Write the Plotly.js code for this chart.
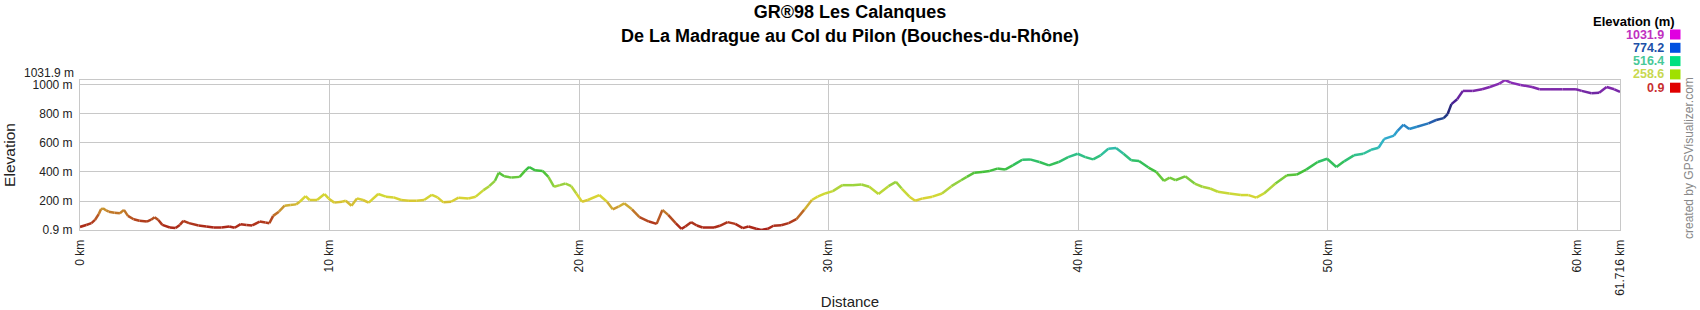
<!DOCTYPE html>
<html><head><meta charset="utf-8">
<script src="https://cdn.plot.ly/plotly-3.0.1.min.js"></script>
<style>html,body{margin:0;padding:0;background:#fff;} #chart{width:1700px;height:310px;}</style>
</head><body><div id="chart"></div>
<script>
// ---------------- DATA ----------------
const distanceKm = [0.0,0.25,0.46,0.6,0.75,0.84,0.92,1.05,1.15,1.38,1.6,1.76,1.92,2.15,2.38,2.68,2.85,2.99,3.14,3.3,3.6,3.83,4.0,4.14,4.37,4.75,5.06,5.36,5.67,5.98,6.2,6.44,6.67,6.9,7.2,7.43,7.59,7.74,7.97,8.2,8.43,8.66,8.81,9.04,9.2,9.5,9.8,9.96,10.19,10.5,10.65,10.88,11.1,11.34,11.57,11.95,12.26,12.57,12.87,13.18,13.49,13.79,14.1,14.33,14.56,14.87,15.17,15.56,15.86,16.17,16.4,16.63,16.78,17.0,17.3,17.62,17.85,18.0,18.24,18.54,18.77,19.0,19.23,19.46,19.69,19.89,20.12,20.35,20.81,21.12,21.35,21.58,21.81,22.12,22.42,22.8,23.11,23.34,23.57,23.87,24.1,24.26,24.49,24.72,24.95,25.41,25.64,25.95,26.26,26.56,26.79,27.1,27.3,27.56,27.79,28.1,28.4,28.71,29.02,29.33,29.56,29.86,30.17,30.55,30.94,31.32,31.63,32.0,32.4,32.7,32.93,33.24,33.47,33.77,34.16,34.54,34.92,35.31,35.54,35.84,36.15,36.46,36.76,37.07,37.38,37.76,38.07,38.45,38.83,39.22,39.6,39.98,40.29,40.6,40.9,41.21,41.52,41.82,42.13,42.44,42.82,43.13,43.44,43.67,43.9,44.29,44.67,44.98,45.29,45.6,46.06,46.52,46.83,47.14,47.45,47.91,48.37,48.76,49.14,49.6,49.98,50.35,50.66,51.05,51.43,51.74,52.04,52.27,52.66,52.81,53.04,53.27,53.58,54.04,54.35,54.65,54.81,54.96,55.19,55.42,55.81,56.19,56.5,56.88,57.11,57.34,57.73,58.19,58.49,58.95,59.41,59.95,60.18,60.57,60.88,61.18,61.49,61.716];
const elevationM = [22,35,48,70,110,143,150,135,127,120,116,139,98,75,64,59,72,89,70,36,18,14,36,64,48,32,25,18,18,25,16,41,36,32,59,52,48,98,127,168,173,177,195,234,207,207,248,218,189,195,202,168,218,207,189,248,230,225,207,202,202,207,243,225,191,195,223,218,230,275,302,339,395,370,361,366,411,434,411,407,366,298,309,320,302,252,195,207,241,195,143,161,184,143,89,59,43,139,105,48,9,25,55,32,18,18,30,55,43,14,25,9,0.9,9,30,34,48,75,139,207,230,252,268,309,309,314,298,248,302,332,286,230,202,218,230,252,302,343,366,395,400,407,423,416,445,484,486,468,445,468,502,525,502,486,514,559,564,525,480,475,430,400,339,361,343,370,320,298,286,264,252,241,241,223,252,320,377,382,416,468,491,434,473,514,525,552,566,627,650,684,725,695,711,734,757,770,798,866,900,957,957,968,984,1007,1031.9,1014,998,984,968,968,968,968,957,941,945,984,968,950];
const xTickVals = [0,10,20,30,40,50,60,61.716];
const xTickText = ['0 km','10 km','20 km','30 km','40 km','50 km','60 km','61.716 km'];
const yTickVals = [0.9,200,400,600,800,1000,1031.9];
const yTickText = ['0.9 m','200 m','400 m','600 m','800 m','1000 m',''];
const yTopLabel = '1031.9 m';
const legendTitle = 'Elevation (m)';
const legendLabels = ['1031.9','774.2','516.4','258.6','0.9'];
const titleLines = ['GR®98 Les Calanques','De La Madrague au Col du Pilon (Bouches-du-Rhône)'];
const xTitle = 'Distance';
const yTitle = 'Elevation';
const creditText = 'created by GPSVisualizer.com';

// ---------------- STYLE ----------------
const lineColorStops = [
  [0.9,'#a82018'],[60,'#b03c1c'],[120,'#c07628'],[170,'#d0ae34'],[215,'#dad432'],
  [258.6,'#c8d838'],[330,'#8cd040'],[400,'#44c038'],[470,'#30c060'],[530,'#30c098'],
  [600,'#30b4c8'],[690,'#2c98d0'],[740,'#2464b4'],[774.2,'#1c3c88'],[830,'#282a7c'],
  [880,'#482092'],[960,'#7a28a8'],[1031.9,'#9030b8']
];
const legendSwatchColors = ['#e000e0','#0050e0','#00e080','#a0e000','#e00000'];
const legendTextColors = ['#c030c0','#2050a8','#48c898','#c8d850','#c83030'];
const FONT = '"Liberation Sans", Arial, sans-serif';
const PLOT = {l:80, t:80, w:1540, h:150};
const px2x = px => (px - PLOT.l) / PLOT.w;
const px2y = py => (PLOT.t + PLOT.h - py) / PLOT.h;

function hexToRgb(h){ return [parseInt(h.slice(1,3),16),parseInt(h.slice(3,5),16),parseInt(h.slice(5,7),16)]; }
function colorAt(v){
  const s = lineColorStops;
  if (v <= s[0][0]) return 'rgb(' + hexToRgb(s[0][1]).join(',') + ')';
  for (let i = 0; i < s.length - 1; i++){
    if (v <= s[i+1][0]){
      const t = (v - s[i][0]) / (s[i+1][0] - s[i][0]);
      const a = hexToRgb(s[i][1]), b = hexToRgb(s[i+1][1]);
      const c = a.map((ai,k)=>Math.round((ai + (b[k]-ai)*t)/4)*4);
      return 'rgb(' + c.join(',') + ')';
    }
  }
  return 'rgb(' + hexToRgb(s[s.length-1][1]).join(',') + ')';
}

// group line segments by colour
const groups = new Map();
for (let i = 0; i < distanceKm.length - 1; i++){
  const c = colorAt((elevationM[i] + elevationM[i+1]) / 2);
  if (!groups.has(c)) groups.set(c, {x:[], y:[]});
  const g = groups.get(c);
  g.x.push(distanceKm[i], distanceKm[i+1], null);
  g.y.push(elevationM[i], elevationM[i+1], null);
}
const traces = [];
groups.forEach((g, c) => {
  traces.push({type:'scatter', mode:'lines', x:g.x, y:g.y, connectgaps:false,
    line:{color:c, width:2.5}, hoverinfo:'skip', showlegend:false});
});

const annotations = [
  {xref:'paper', yref:'y', x:0, y:yTickVals[yTickVals.length-1], xanchor:'right', yanchor:'middle',
   xshift:-4, yshift:7, text:yTopLabel, showarrow:false, font:{family:FONT, size:12, color:'#222'}},
  {xref:'paper', yref:'paper', x:px2x(1677), y:px2y(22), xanchor:'right', yanchor:'middle',
   text:legendTitle, showarrow:false, font:{family:FONT, size:13, color:'#000', weight:'bold'}},
  {xref:'paper', yref:'paper', x:px2x(1689), y:px2y(158), xanchor:'center', yanchor:'middle',
   text:creditText, textangle:-90, showarrow:false, font:{family:FONT, size:12, color:'#888'}}
];
const shapes = [];
const rowY = [34.5, 47.8, 61.1, 74.4, 87.7];
legendLabels.forEach((lab, i) => {
  annotations.push({xref:'paper', yref:'paper', x:px2x(1666), y:px2y(rowY[i]), xanchor:'right', yanchor:'middle',
    text:lab, showarrow:false, font:{family:FONT, size:12.5, color:legendTextColors[i], weight:'bold'}});
  shapes.push({type:'rect', xref:'paper', yref:'paper', x0:px2x(1670), x1:px2x(1680.5),
    y0:px2y(rowY[i]+5), y1:px2y(rowY[i]-5), fillcolor:legendSwatchColors[i], line:{width:0}});
});

const layout = {
  width:1700, height:310,
  margin:{l:80, r:80, t:80, b:80, pad:0},
  paper_bgcolor:'#fff', plot_bgcolor:'#fff',
  showlegend:false,
  title:{text:titleLines.join('<br>'), font:{family:FONT, size:18, color:'#000', weight:'bold'},
         x:0.5, xanchor:'center', xref:'container', y:1 - 18.1/310, yanchor:'middle', yref:'container'},
  xaxis:{range:[0,61.716], tickvals:xTickVals, ticktext:xTickText, tickangle:-90,
    showgrid:true, gridcolor:'#c8c8c8', gridwidth:1, zeroline:false,
    showline:true, mirror:true, linecolor:'#c8c8c8', linewidth:1, ticks:'', ticklabelstandoff:4,
    tickfont:{family:FONT, size:12, color:'#222'},
    title:{text:xTitle, font:{family:FONT, size:15, color:'#222'}, standoff:4}},
  yaxis:{range:[0.9,1031.9], tickvals:yTickVals, ticktext:yTickText,
    showgrid:true, gridcolor:'#c8c8c8', gridwidth:1, zeroline:false,
    showline:true, mirror:true, linecolor:'#c8c8c8', linewidth:1, ticks:'', ticklabelstandoff:4,
    tickfont:{family:FONT, size:12, color:'#222'},
    title:{text:yTitle, font:{family:FONT, size:15.5, color:'#222'}, standoff:13}},
  annotations:annotations,
  shapes:shapes
};
Plotly.newPlot('chart', traces, layout, {staticPlot:true, displayModeBar:false});
</script></body></html>
